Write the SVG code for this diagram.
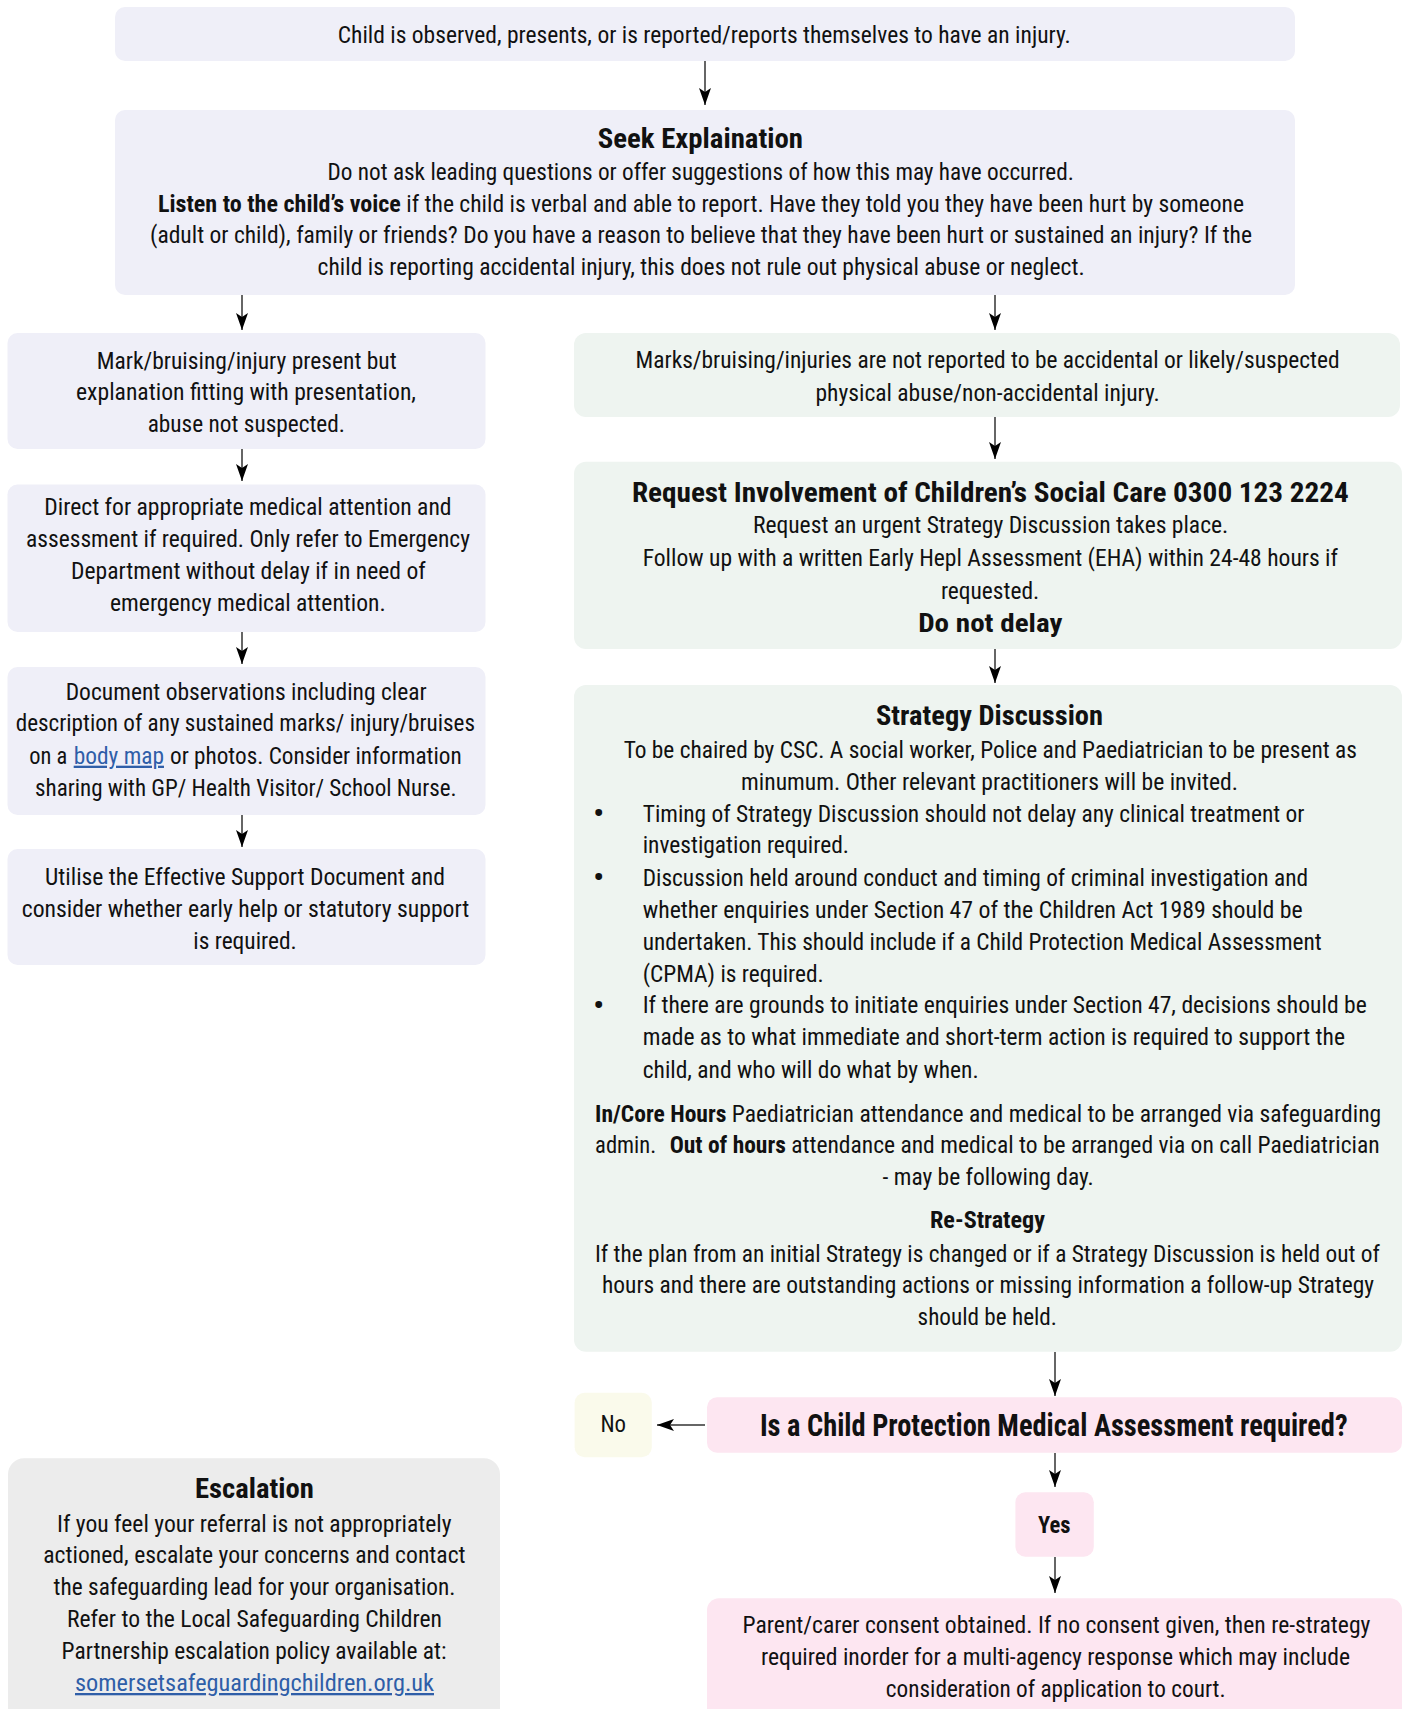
<svg xmlns="http://www.w3.org/2000/svg" width="1407" height="1709" viewBox="0 0 1407 1709">
<defs>
<style>
text{font-family:"Roboto Condensed","Liberation Sans Narrow",Roboto,"Liberation Sans",sans-serif;font-size:23px;fill:#111;}
.b{font-weight:bold;}
.t{font-size:28px;font-weight:bold;}
.q{font-size:31px;font-weight:bold;}
.bul{font-size:34px;}
.lnk{fill:#2f5ea8;text-decoration:underline;}
.lav{fill:#efeff8;}
.grn{fill:#eef4f0;}
.pnk{fill:#fde6f1;}
.yel{fill:#fafaeb;}
.gry{fill:#ececec;}
.c line{stroke:#333;stroke-width:1.5;marker-end:url(#ah);}
</style>
<marker id="ah" markerUnits="userSpaceOnUse" markerWidth="18" markerHeight="12" viewBox="0 0 18 12" refX="17" refY="6" orient="auto">
<path d="M0,0 L17,6 L0,12 L4,6 Z" fill="#000"/>
</marker>
</defs>

<g id="n-top">
<rect class="lav" x="115" y="7" width="1180" height="54" rx="10"/>
<text x="337.7" y="43.3" textLength="733" lengthAdjust="spacingAndGlyphs">Child is observed, presents, or is reported/reports themselves to have an injury.</text>
</g>

<g id="n-seek">
<rect class="lav" x="115" y="110" width="1180" height="185" rx="10"/>
<text class="t" x="597.7" y="148.3" textLength="205.3" lengthAdjust="spacingAndGlyphs">Seek Explaination</text>
<text x="327.6" y="180" textLength="746.2" lengthAdjust="spacingAndGlyphs">Do not ask leading questions or offer suggestions of how this may have occurred.</text>
<text class="b" x="157.9" y="211.7" textLength="243" lengthAdjust="spacingAndGlyphs">Listen to the child’s voice</text>
<text x="406.3" y="211.7" textLength="837.7" lengthAdjust="spacingAndGlyphs">if the child is verbal and able to report. Have they told you they have been hurt by someone</text>
<text x="150" y="243.3" textLength="1102" lengthAdjust="spacingAndGlyphs">(adult or child), family or friends? Do you have a reason to believe that they have been hurt or sustained an injury? If the</text>
<text x="317.6" y="275" textLength="767" lengthAdjust="spacingAndGlyphs">child is reporting accidental injury, this does not rule out physical abuse or neglect.</text>
</g>

<g id="n-l1">
<rect class="lav" x="7.5" y="333" width="478" height="116" rx="10"/>
<text x="96.7" y="369" textLength="300" lengthAdjust="spacingAndGlyphs">Mark/bruising/injury present but</text>
<text x="76" y="400.4" textLength="340" lengthAdjust="spacingAndGlyphs">explanation fitting with presentation,</text>
<text x="147.7" y="432" textLength="197.3" lengthAdjust="spacingAndGlyphs">abuse not suspected.</text>
</g>

<g id="n-l2">
<rect class="lav" x="7.5" y="484.5" width="478" height="147.5" rx="10"/>
<text x="44.3" y="515" textLength="407.3" lengthAdjust="spacingAndGlyphs">Direct for appropriate medical attention and</text>
<text x="26" y="547.3" textLength="444" lengthAdjust="spacingAndGlyphs">assessment if required. Only refer to Emergency</text>
<text x="71" y="579" textLength="354.7" lengthAdjust="spacingAndGlyphs">Department without delay if in need of</text>
<text x="110" y="611" textLength="275.7" lengthAdjust="spacingAndGlyphs">emergency medical attention.</text>
</g>

<g id="n-l3">
<rect class="lav" x="7.5" y="667" width="478" height="148" rx="10"/>
<text x="65.7" y="699.6" textLength="361" lengthAdjust="spacingAndGlyphs">Document observations including clear</text>
<text x="15.7" y="731.4" textLength="459.3" lengthAdjust="spacingAndGlyphs">description of any sustained marks/ injury/bruises</text>
<text x="29.3" y="763.7" textLength="38" lengthAdjust="spacingAndGlyphs">on a</text>
<text class="lnk" x="73.7" y="763.7" textLength="90.3" lengthAdjust="spacingAndGlyphs">body map</text>
<text x="170" y="763.7" textLength="291.7" lengthAdjust="spacingAndGlyphs">or photos. Consider information</text>
<text x="35" y="795.5" textLength="421.7" lengthAdjust="spacingAndGlyphs">sharing with GP/ Health Visitor/ School Nurse.</text>
</g>

<g id="n-l4">
<rect class="lav" x="7.5" y="849" width="478" height="116" rx="10"/>
<text x="45" y="884.5" textLength="400" lengthAdjust="spacingAndGlyphs">Utilise the Effective Support Document and</text>
<text x="21.7" y="916.7" textLength="447.6" lengthAdjust="spacingAndGlyphs">consider whether early help or statutory support</text>
<text x="193.3" y="948.6" textLength="103.4" lengthAdjust="spacingAndGlyphs">is required.</text>
</g>

<g id="n-r1">
<rect class="grn" x="574" y="333" width="826" height="84" rx="12"/>
<text x="635.6" y="368.3" textLength="704" lengthAdjust="spacingAndGlyphs">Marks/bruising/injuries are not reported to be accidental or likely/suspected</text>
<text x="815.5" y="400.7" textLength="344.2" lengthAdjust="spacingAndGlyphs">physical abuse/non-accidental injury.</text>
</g>

<g id="n-r2">
<rect class="grn" x="574" y="461.7" width="828" height="187.3" rx="12"/>
<text class="t" x="631.9" y="501.7" textLength="717" lengthAdjust="spacingAndGlyphs">Request Involvement of Children’s Social Care 0300 123 2224</text>
<text x="752.9" y="533.3" textLength="475.4" lengthAdjust="spacingAndGlyphs">Request an urgent Strategy Discussion takes place.</text>
<text x="642.7" y="566" textLength="695.3" lengthAdjust="spacingAndGlyphs">Follow up with a written Early Hepl Assessment (EHA) within 24-48 hours if</text>
<text x="940.9" y="599.3" textLength="98.3" lengthAdjust="spacingAndGlyphs">requested.</text>
<text class="b" x="918.2" y="631.7" textLength="144.2" lengthAdjust="spacingAndGlyphs" style="font-size:25px">Do not delay</text>
</g>

<g id="n-r3">
<rect class="grn" x="574" y="685" width="828" height="666.7" rx="12"/>
<text class="t" x="876" y="725" textLength="227" lengthAdjust="spacingAndGlyphs">Strategy Discussion</text>
<text x="623.7" y="758.3" textLength="733.2" lengthAdjust="spacingAndGlyphs">To be chaired by CSC. A social worker, Police and Paediatrician to be present as</text>
<text x="741" y="790" textLength="497" lengthAdjust="spacingAndGlyphs">minumum. Other relevant practitioners will be invited.</text>
<text class="bul" x="593" y="825">•</text>
<text x="642.7" y="821.7" textLength="661.8" lengthAdjust="spacingAndGlyphs">Timing of Strategy Discussion should not delay any clinical treatment or</text>
<text x="642.7" y="853.3" textLength="206.3" lengthAdjust="spacingAndGlyphs">investigation required.</text>
<text class="bul" x="593" y="889.3">•</text>
<text x="642.7" y="886" textLength="665.5" lengthAdjust="spacingAndGlyphs">Discussion held around conduct and timing of criminal investigation and</text>
<text x="642.7" y="918.3" textLength="660" lengthAdjust="spacingAndGlyphs">whether enquiries under Section 47 of the Children Act 1989 should be</text>
<text x="642.7" y="950" textLength="679" lengthAdjust="spacingAndGlyphs">undertaken. This should include if a Child Protection Medical Assessment</text>
<text x="642.7" y="981.7" textLength="181" lengthAdjust="spacingAndGlyphs">(CPMA) is required.</text>
<text class="bul" x="593" y="1016.6">•</text>
<text x="642.7" y="1013.3" textLength="724" lengthAdjust="spacingAndGlyphs">If there are grounds to initiate enquiries under Section 47, decisions should be</text>
<text x="642.7" y="1045" textLength="702.3" lengthAdjust="spacingAndGlyphs">made as to what immediate and short-term action is required to support the</text>
<text x="642.7" y="1077.5" textLength="336" lengthAdjust="spacingAndGlyphs">child, and who will do what by when.</text>
<text class="b" x="595.1" y="1121.7" textLength="131.3" lengthAdjust="spacingAndGlyphs">In/Core Hours</text>
<text x="731.8" y="1121.7" textLength="649.4" lengthAdjust="spacingAndGlyphs">Paediatrician attendance and medical to be arranged via safeguarding</text>
<text x="595.1" y="1153.3" textLength="61.1" lengthAdjust="spacingAndGlyphs">admin.</text>
<text class="b" x="669.7" y="1153.3" textLength="116.1" lengthAdjust="spacingAndGlyphs">Out of hours</text>
<text x="791.2" y="1153.3" textLength="588.4" lengthAdjust="spacingAndGlyphs">attendance and medical to be arranged via on call Paediatrician</text>
<text x="882.5" y="1185" textLength="211.3" lengthAdjust="spacingAndGlyphs">- may be following day.</text>
<text class="b" x="930" y="1228.3" textLength="115" lengthAdjust="spacingAndGlyphs">Re-Strategy</text>
<text x="595" y="1261.7" textLength="785" lengthAdjust="spacingAndGlyphs">If the plan from an initial Strategy is changed or if a Strategy Discussion is held out of</text>
<text x="602" y="1293.3" textLength="772" lengthAdjust="spacingAndGlyphs">hours and there are outstanding actions or missing information a follow-up Strategy</text>
<text x="917.6" y="1325" textLength="139.4" lengthAdjust="spacingAndGlyphs">should be held.</text>
</g>

<g id="n-decision">
<rect class="pnk" x="707" y="1397.3" width="695" height="55.4" rx="10"/>
<text class="q" x="759.9" y="1435.5" textLength="587.8" lengthAdjust="spacingAndGlyphs">Is a Child Protection Medical Assessment required?</text>
</g>

<g id="n-no">
<rect class="yel" x="574.6" y="1392.7" width="77.2" height="64.6" rx="10"/>
<text x="600.4" y="1431.7" textLength="25.6" lengthAdjust="spacingAndGlyphs">No</text>
</g>

<g id="n-yes">
<rect class="pnk" x="1015.4" y="1492.3" width="78.4" height="64.4" rx="10"/>
<text class="b" x="1038" y="1532.7" textLength="32.5" lengthAdjust="spacingAndGlyphs">Yes</text>
</g>

<g id="n-consent">
<rect class="pnk" x="707" y="1598.3" width="695" height="140" rx="12"/>
<text x="742.6" y="1633.3" textLength="627.8" lengthAdjust="spacingAndGlyphs">Parent/carer consent obtained. If no consent given, then re-strategy</text>
<text x="761" y="1665" textLength="589" lengthAdjust="spacingAndGlyphs">required inorder for a multi-agency response which may include</text>
<text x="885.8" y="1696.7" textLength="339.8" lengthAdjust="spacingAndGlyphs">consideration of application to court.</text>
</g>

<g id="n-escalation">
<rect class="gry" x="8" y="1458.3" width="492" height="280" rx="16"/>
<text class="t" x="195" y="1498.3" textLength="118.8" lengthAdjust="spacingAndGlyphs">Escalation</text>
<text x="57" y="1531.7" textLength="394.6" lengthAdjust="spacingAndGlyphs">If you feel your referral is not appropriately</text>
<text x="43.3" y="1562.7" textLength="422.3" lengthAdjust="spacingAndGlyphs">actioned, escalate your concerns and contact</text>
<text x="53.6" y="1595" textLength="401.8" lengthAdjust="spacingAndGlyphs">the safeguarding lead for your organisation.</text>
<text x="67" y="1626.7" textLength="375" lengthAdjust="spacingAndGlyphs">Refer to the Local Safeguarding Children</text>
<text x="61.6" y="1659" textLength="384.8" lengthAdjust="spacingAndGlyphs">Partnership escalation policy available at:</text>
<text class="lnk" x="75" y="1691" textLength="359" lengthAdjust="spacingAndGlyphs">somersetsafeguardingchildren.org.uk</text>
</g>

<g id="connectors" class="c">
<line x1="705" y1="61" x2="705" y2="105"/>
<line x1="242" y1="295" x2="242" y2="330"/>
<line x1="995" y1="295" x2="995" y2="330"/>
<line x1="242" y1="449" x2="242" y2="481"/>
<line x1="242" y1="632" x2="242" y2="664"/>
<line x1="242" y1="815" x2="242" y2="847"/>
<line x1="995" y1="417" x2="995" y2="459"/>
<line x1="995" y1="649" x2="995" y2="683"/>
<line x1="1055" y1="1352" x2="1055" y2="1396"/>
<line x1="705" y1="1425" x2="657" y2="1425"/>
<line x1="1055" y1="1453" x2="1055" y2="1487"/>
<line x1="1055" y1="1557" x2="1055" y2="1593"/>
</g>
</svg>
